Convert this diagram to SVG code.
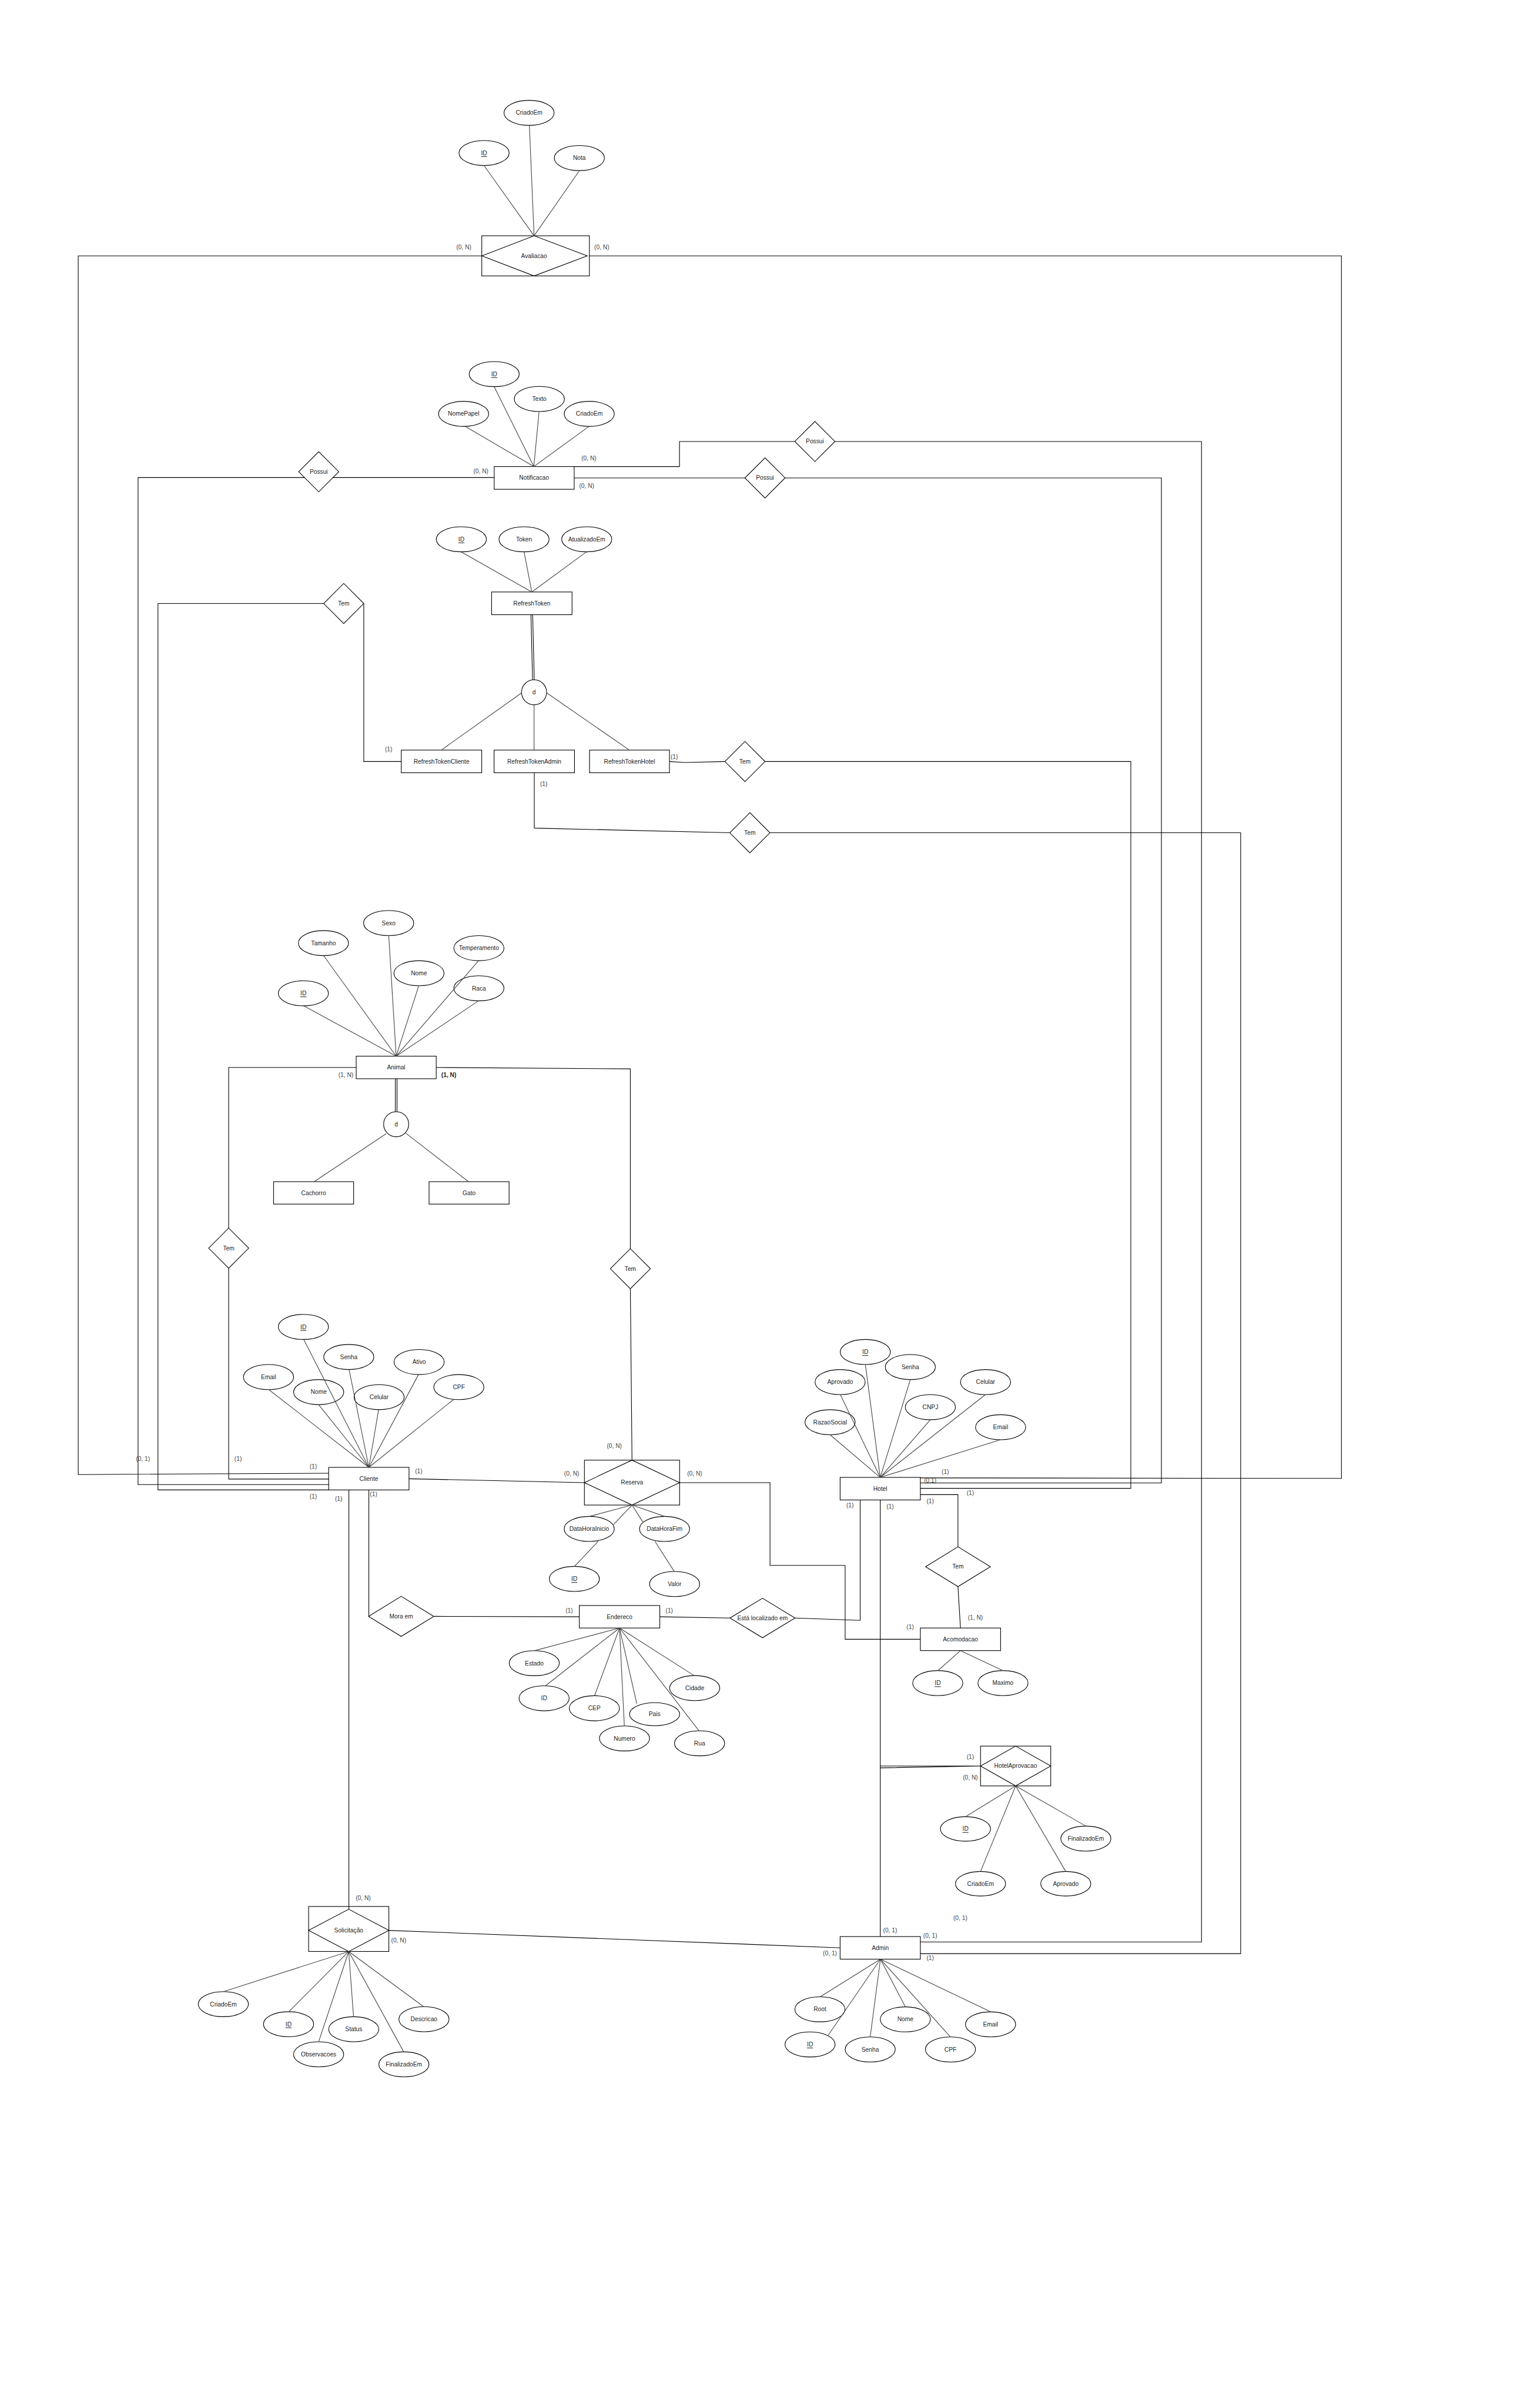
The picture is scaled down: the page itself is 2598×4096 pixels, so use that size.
<svg xmlns="http://www.w3.org/2000/svg" width="2598" height="4096" viewBox="0 0 2598 4096">
<style>
.n{fill:#fff;stroke:#000;stroke-width:1.3}
.c{fill:none;stroke:#000;stroke-width:1.3}
.al{fill:none;stroke:#444;stroke-width:1.3}
text{font-family:"Liberation Sans",Arial,sans-serif;font-size:12px;fill:#222;text-anchor:middle;dominant-baseline:central}
.k{fill:#444}
.u{text-decoration:underline}
.b{font-weight:bold;fill:#222}
</style>
<rect width="2598" height="4096" fill="#fff"/>
<g transform="scale(0.8532,0.85333)">

<!-- ============ NODES ============ -->
<g id="avaliacao"><rect class="n" x="960.7" y="470" width="214.6" height="80"/><polygon class="n" points="961,510 1065,470 1171,510 1065,550"/><text x="1065" y="510">Avaliacao</text></g>
<g id="avaliacao-id"><ellipse class="n" cx="965.3" cy="305" rx="50" ry="25"/><text class="u" x="965.3" y="305">ID</text></g>
<g id="avaliacao-criadoem"><ellipse class="n" cx="1055" cy="225" rx="50" ry="25"/><text x="1055" y="225">CriadoEm</text></g>
<g id="avaliacao-nota"><ellipse class="n" cx="1155.3" cy="315" rx="50" ry="25"/><text x="1155.3" y="315">Nota</text></g>

<g id="notificacao"><rect class="n" x="985.5" y="930" width="159.5" height="45.3"/><text x="1065" y="952.5">Notificacao</text></g>
<g id="notificacao-id"><ellipse class="n" cx="985.5" cy="745.7" rx="50" ry="25"/><text class="u" x="985.5" y="745.7">ID</text></g>
<g id="notificacao-texto"><ellipse class="n" cx="1075.5" cy="795.3" rx="50" ry="25"/><text x="1075.5" y="795.3">Texto</text></g>
<g id="notificacao-nomepapel"><ellipse class="n" cx="924.5" cy="825" rx="50" ry="25"/><text x="924.5" y="825">NomePapel</text></g>
<g id="notificacao-criadoem"><ellipse class="n" cx="1175" cy="825" rx="50" ry="25"/><text x="1175" y="825">CriadoEm</text></g>
<g id="possui-cliente"><polygon class="n" points="595.6,940.3 635.6,900.3 675.6,940.3 635.6,980.3"/><text x="635.6" y="940.3">Possui</text></g>
<g id="possui-hotel"><polygon class="n" points="1485.5,952.7 1525.5,912.7 1565.5,952.7 1525.5,992.7"/><text x="1525.5" y="952.7">Possui</text></g>
<g id="possui-admin"><polygon class="n" points="1585,880 1625,840 1665,880 1625,920"/><text x="1625" y="880">Possui</text></g>

<g id="refreshtoken"><rect class="n" x="980.3" y="1180" width="160.4" height="45.3"/><text x="1060.5" y="1202.6">RefreshToken</text></g>
<g id="refreshtoken-id"><ellipse class="n" cx="920" cy="1075" rx="50" ry="25"/><text class="u" x="920" y="1075">ID</text></g>
<g id="refreshtoken-token"><ellipse class="n" cx="1045" cy="1075" rx="50" ry="25"/><text x="1045" y="1075">Token</text></g>
<g id="refreshtoken-atualizadoem"><ellipse class="n" cx="1170" cy="1075" rx="50" ry="25"/><text x="1170" y="1075">AtualizadoEm</text></g>
<g id="refreshtoken-d"><circle class="n" cx="1065" cy="1380" r="25"/><text x="1065" y="1380">d</text></g>
<g id="refreshtokencliente"><rect class="n" x="800.2" y="1495.2" width="160.4" height="45.2"/><text x="880.4" y="1517.8">RefreshTokenCliente</text></g>
<g id="refreshtokenadmin"><rect class="n" x="985.2" y="1495.2" width="160.4" height="45.2"/><text x="1065.4" y="1517.8">RefreshTokenAdmin</text></g>
<g id="refreshtokenhotel"><rect class="n" x="1175.6" y="1495.2" width="159.4" height="45.2"/><text x="1255.3" y="1517.8">RefreshTokenHotel</text></g>
<g id="tem-rt-cliente"><polygon class="n" points="645.4,1203 685.4,1163 725.4,1203 685.4,1243"/><text x="685.4" y="1203">Tem</text></g>
<g id="tem-rt-hotel"><polygon class="n" points="1445.5,1518 1485.5,1478 1525.5,1518 1485.5,1558"/><text x="1485.5" y="1518">Tem</text></g>
<g id="tem-rt-admin"><polygon class="n" points="1455.3,1660 1495.3,1620 1535.3,1660 1495.3,1700"/><text x="1495.3" y="1660">Tem</text></g>

<g id="animal"><rect class="n" x="710.3" y="2105.3" width="159.6" height="45"/><text x="790" y="2127.8">Animal</text></g>
<g id="animal-sexo"><ellipse class="n" cx="775" cy="1840" rx="50" ry="25"/><text x="775" y="1840">Sexo</text></g>
<g id="animal-tamanho"><ellipse class="n" cx="645" cy="1880" rx="50" ry="25"/><text x="645" y="1880">Tamanho</text></g>
<g id="animal-temperamento"><ellipse class="n" cx="955" cy="1890" rx="50" ry="25"/><text x="955" y="1890">Temperamento</text></g>
<g id="animal-nome"><ellipse class="n" cx="835.5" cy="1940" rx="50" ry="25"/><text x="835.5" y="1940">Nome</text></g>
<g id="animal-raca"><ellipse class="n" cx="955" cy="1970" rx="50" ry="25"/><text x="955" y="1970">Raca</text></g>
<g id="animal-id"><ellipse class="n" cx="605" cy="1980" rx="50" ry="25"/><text class="u" x="605" y="1980">ID</text></g>
<g id="animal-d"><circle class="n" cx="790" cy="2241" r="25"/><text x="790" y="2241">d</text></g>
<g id="cachorro"><rect class="n" x="545.6" y="2355.5" width="159.6" height="44.7"/><text x="625.4" y="2377.8">Cachorro</text></g>
<g id="gato"><rect class="n" x="855.6" y="2355.5" width="159.6" height="44.7"/><text x="935.4" y="2377.8">Gato</text></g>
<g id="tem-animal-cliente"><polygon class="n" points="416,2488 456,2448 496,2488 456,2528"/><text x="456" y="2488">Tem</text></g>
<g id="tem-animal-reserva"><polygon class="n" points="1217,2529 1257,2489 1297,2529 1257,2569"/><text x="1257" y="2529">Tem</text></g>

<g id="cliente"><rect class="n" x="655.4" y="2925" width="160.2" height="45"/><text x="735.5" y="2947.5">Cliente</text></g>
<g id="cliente-id"><ellipse class="n" cx="605" cy="2645" rx="50" ry="25"/><text class="u" x="605" y="2645">ID</text></g>
<g id="cliente-senha"><ellipse class="n" cx="695.5" cy="2705" rx="50" ry="25"/><text x="695.5" y="2705">Senha</text></g>
<g id="cliente-ativo"><ellipse class="n" cx="835.8" cy="2715" rx="50" ry="25"/><text x="835.8" y="2715">Ativo</text></g>
<g id="cliente-email"><ellipse class="n" cx="535.5" cy="2745" rx="50" ry="25"/><text x="535.5" y="2745">Email</text></g>
<g id="cliente-nome"><ellipse class="n" cx="635.5" cy="2775" rx="50" ry="25"/><text x="635.5" y="2775">Nome</text></g>
<g id="cliente-celular"><ellipse class="n" cx="756" cy="2785" rx="50" ry="25"/><text x="756" y="2785">Celular</text></g>
<g id="cliente-cpf"><ellipse class="n" cx="915" cy="2765" rx="50" ry="25"/><text x="915" y="2765">CPF</text></g>

<g id="hotel"><rect class="n" x="1675.3" y="2945" width="160" height="45"/><text x="1755.3" y="2967.5">Hotel</text></g>
<g id="hotel-id"><ellipse class="n" cx="1725.5" cy="2695" rx="50" ry="25"/><text class="u" x="1725.5" y="2695">ID</text></g>
<g id="hotel-senha"><ellipse class="n" cx="1815.3" cy="2725" rx="50" ry="25"/><text x="1815.3" y="2725">Senha</text></g>
<g id="hotel-aprovado"><ellipse class="n" cx="1675.3" cy="2755" rx="50" ry="25"/><text x="1675.3" y="2755">Aprovado</text></g>
<g id="hotel-celular"><ellipse class="n" cx="1965.3" cy="2755" rx="50" ry="25"/><text x="1965.3" y="2755">Celular</text></g>
<g id="hotel-cnpj"><ellipse class="n" cx="1855.3" cy="2805" rx="50" ry="25"/><text x="1855.3" y="2805">CNPJ</text></g>
<g id="hotel-razaosocial"><ellipse class="n" cx="1655.3" cy="2835" rx="50" ry="25"/><text x="1655.3" y="2835">RazaoSocial</text></g>
<g id="hotel-email"><ellipse class="n" cx="1995.3" cy="2845" rx="50" ry="25"/><text x="1995.3" y="2845">Email</text></g>

<g id="reserva"><rect class="n" x="1165.4" y="2910.6" width="189.8" height="89.5"/><polygon class="n" points="1165.4,2955.4 1260.3,2910.6 1355.2,2955.4 1260.3,3000.1"/><text x="1260.3" y="2955.4">Reserva</text></g>
<g id="reserva-datahorainicio"><ellipse class="n" cx="1175" cy="3047.7" rx="50" ry="25"/><text x="1175" y="3047.7">DataHoraInicio</text></g>
<g id="reserva-datahorafim"><ellipse class="n" cx="1325.2" cy="3047.7" rx="50" ry="25"/><text x="1325.2" y="3047.7">DataHoraFim</text></g>
<g id="reserva-id"><ellipse class="n" cx="1145.3" cy="3147.3" rx="50" ry="25"/><text class="u" x="1145.3" y="3147.3">ID</text></g>
<g id="reserva-valor"><ellipse class="n" cx="1345.3" cy="3157.5" rx="50" ry="25"/><text x="1345.3" y="3157.5">Valor</text></g>

<g id="mora-em"><polygon class="n" points="735,3222 800,3182 865,3222 800,3262"/><text x="800" y="3222">Mora em</text></g>
<g id="endereco"><rect class="n" x="1155.2" y="3200.4" width="160.5" height="44.8"/><text x="1235.4" y="3222.8">Endereco</text></g>
<g id="endereco-estado"><ellipse class="n" cx="1065.4" cy="3315.3" rx="50" ry="25"/><text x="1065.4" y="3315.3">Estado</text></g>
<g id="endereco-id"><ellipse class="n" cx="1085" cy="3385.3" rx="50" ry="25"/><text x="1085" y="3385.3">ID</text></g>
<g id="endereco-cep"><ellipse class="n" cx="1185.2" cy="3405.2" rx="50" ry="25"/><text x="1185.2" y="3405.2">CEP</text></g>
<g id="endereco-numero"><ellipse class="n" cx="1245.3" cy="3465.3" rx="50" ry="25"/><text x="1245.3" y="3465.3">Numero</text></g>
<g id="endereco-pais"><ellipse class="n" cx="1305.3" cy="3417" rx="50" ry="23"/><text x="1305.3" y="3417">Pais</text></g>
<g id="endereco-rua"><ellipse class="n" cx="1395" cy="3475" rx="50" ry="25"/><text x="1395" y="3475">Rua</text></g>
<g id="endereco-cidade"><ellipse class="n" cx="1385.3" cy="3365" rx="50" ry="25"/><text x="1385.3" y="3365">Cidade</text></g>
<g id="esta-localizado-em"><polygon class="n" points="1455.7,3225.3 1520.5,3185.9 1585.4,3225.3 1520.5,3264.6"/><text x="1520.5" y="3225.3">Está localizado em</text></g>

<g id="tem-acomodacao"><polygon class="n" points="1845.7,3123 1910.3,3083.3 1975,3123 1910.3,3162.7"/><text x="1910.3" y="3123">Tem</text></g>
<g id="acomodacao"><rect class="n" x="1835.3" y="3245.2" width="160" height="45"/><text x="1915.3" y="3267.7">Acomodacao</text></g>
<g id="acomodacao-id"><ellipse class="n" cx="1870" cy="3355" rx="50" ry="25"/><text class="u" x="1870" y="3355">ID</text></g>
<g id="acomodacao-maximo"><ellipse class="n" cx="2000" cy="3355" rx="50" ry="25"/><text x="2000" y="3355">Maximo</text></g>

<g id="hotelaprovacao"><rect class="n" x="1955.3" y="3480.6" width="140" height="79.4"/><polygon class="n" points="1955.3,3520.3 2025.3,3480.6 2095.3,3520.3 2025.3,3560"/><text x="2025.3" y="3520.3">HotelAprovacao</text></g>
<g id="hotelaprovacao-id"><ellipse class="n" cx="1925.3" cy="3645.7" rx="50" ry="24.5"/><text class="u" x="1925.3" y="3645.7">ID</text></g>
<g id="hotelaprovacao-criadoem"><ellipse class="n" cx="1955.3" cy="3755" rx="50" ry="24.5"/><text x="1955.3" y="3755">CriadoEm</text></g>
<g id="hotelaprovacao-aprovado"><ellipse class="n" cx="2125.3" cy="3755" rx="50" ry="24.5"/><text x="2125.3" y="3755">Aprovado</text></g>
<g id="hotelaprovacao-finalizadoem"><ellipse class="n" cx="2165.3" cy="3665" rx="50" ry="25"/><text x="2165.3" y="3665">FinalizadoEm</text></g>

<g id="solicitacao"><rect class="n" x="615.4" y="3800.3" width="160" height="89.7"/><polygon class="n" points="615.4,3848 695.4,3805.7 775.4,3848 695.4,3890"/><text x="695.4" y="3848">Solicitação</text></g>
<g id="solicitacao-criadoem"><ellipse class="n" cx="445.4" cy="3995" rx="50" ry="25"/><text x="445.4" y="3995">CriadoEm</text></g>
<g id="solicitacao-id"><ellipse class="n" cx="575.4" cy="4035" rx="50" ry="25"/><text class="u" x="575.4" y="4035">ID</text></g>
<g id="solicitacao-observacoes"><ellipse class="n" cx="635.4" cy="4095" rx="50" ry="25"/><text x="635.4" y="4095">Observacoes</text></g>
<g id="solicitacao-status"><ellipse class="n" cx="705.4" cy="4045" rx="50" ry="25"/><text x="705.4" y="4045">Status</text></g>
<g id="solicitacao-finalizadoem"><ellipse class="n" cx="805.4" cy="4115" rx="50" ry="25"/><text x="805.4" y="4115">FinalizadoEm</text></g>
<g id="solicitacao-descricao"><ellipse class="n" cx="845.4" cy="4025" rx="50" ry="25"/><text x="845.4" y="4025">Descricao</text></g>

<g id="admin"><rect class="n" x="1675.3" y="3860.3" width="160" height="45"/><text x="1755.3" y="3882.8">Admin</text></g>
<g id="admin-root"><ellipse class="n" cx="1635" cy="4005.3" rx="50" ry="25"/><text x="1635" y="4005.3">Root</text></g>
<g id="admin-id"><ellipse class="n" cx="1615.3" cy="4075.3" rx="50" ry="25"/><text class="u" x="1615.3" y="4075.3">ID</text></g>
<g id="admin-senha"><ellipse class="n" cx="1735.3" cy="4085.3" rx="50" ry="25"/><text x="1735.3" y="4085.3">Senha</text></g>
<g id="admin-nome"><ellipse class="n" cx="1805.3" cy="4025.3" rx="50" ry="25"/><text x="1805.3" y="4025.3">Nome</text></g>
<g id="admin-cpf"><ellipse class="n" cx="1895.3" cy="4085.3" rx="50" ry="25"/><text x="1895.3" y="4085.3">CPF</text></g>
<g id="admin-email"><ellipse class="n" cx="1975.3" cy="4035.3" rx="50" ry="25"/><text x="1975.3" y="4035.3">Email</text></g>

<!-- ============ CONNECTORS ============ -->
<g id="connectors">
<path class="al" d="M966,331 L1065,470 M1055.7,250.7 L1065,470 M1155,340.7 L1065,470"/>
<path class="al" d="M985.5,770.7 L1064.5,930 M1075,820.3 L1064.5,930 M927.6,850 L1064.5,930 M1174.4,850 L1064.5,930"/>
<path class="al" d="M919.7,1100 L1060.5,1180 M1045,1100 L1060.5,1180 M1169.5,1100 L1060.5,1180"/>
<path class="c" d="M1058.8,1225.3 L1062,1355.3 M1062.2,1225.3 L1065.4,1355.3"/>
<path class="al" d="M1040.3,1381 L880,1495.2 M1065,1405 V1495.2 M1090,1381 L1255,1495.2"/>
<path class="al" d="M605.3,2004.8 L790,2105.3 M645.5,1905.2 L790,2105.3 M775.2,1865.2 L790,2105.3 M834.9,1965.3 L790,2105.3 M954.3,1915 L790,2105.3 M954.3,1995 L790,2105.3"/>
<path class="c" d="M788.3,2150.3 V2216 M791.7,2150.3 V2216"/>
<path class="al" d="M770,2260 L626.5,2355.5 M809,2258.7 L934.2,2355.5"/>
<path class="al" d="M605.7,2670 L735.5,2925 M696.2,2730.3 L735.5,2925 M834.5,2740 L735.5,2925 M536,2770 L735.5,2925 M635.5,2800 L735.5,2925 M755,2810 L735.5,2925 M904,2790 L735.5,2925"/>
<path class="al" d="M1725.7,2720 L1755.3,2945 M1815.3,2750 L1755.3,2945 M1675.7,2780 L1755.3,2945 M1965,2780 L1755.3,2945 M1855.3,2830 L1755.3,2945 M1655.3,2860 L1755.3,2945 M1995,2870 L1755.3,2945"/>
<path class="al" d="M1260.3,3000.1 L1175.7,3022.7 M1260.3,3000.1 L1223,3039.5 M1193,3072.3 L1145.7,3122.4 M1260.3,3000.1 L1325.2,3022.7 M1260.3,3000.1 L1281.6,3033.5 M1306,3072.3 L1344.6,3132.6"/>
<path class="al" d="M1235.4,3245.2 L1065.4,3290.5 M1235.4,3245.2 L1087.6,3360.4 M1235.4,3245.2 L1185.6,3380.3 M1235.4,3245.2 L1245,3440.4 M1235.4,3245.2 L1269.8,3396 M1235.4,3245.2 L1394.4,3450.8 M1235.4,3245.2 L1384.5,3340.3"/>
<path class="al" d="M1915.3,3290.2 L1870.3,3330.2 M1915.3,3290.2 L2000,3330.2"/>
<path class="al" d="M2025.3,3560 L1925.3,3621.3 M2025.3,3560 L1955.3,3730.5 M2025.3,3560 L2125.3,3730.5 M2025.3,3560 L2165.3,3640"/>
<path class="al" d="M695.4,3890 L445.7,3970 M695.4,3890 L576,4010 M695.4,3890 L635.4,4070 M695.4,3890 L705,4020 M695.4,3890 L805,4090 M695.4,3890 L844.6,4000"/>
<path class="al" d="M1755.7,3905.3 L1635.7,3980.3 M1755.7,3905.3 L1651.7,4056.7 M1755.7,3905.3 L1735.3,4060.3 M1755.7,3905.3 L1805.3,4000.3 M1755.7,3905.3 L1895.3,4060.3 M1755.7,3905.3 L1975.3,4010.3"/>

<path class="c" d="M960.7,510 H156 V2939.3 L655.4,2936.7"/>
<path class="c" d="M1175.3,510 H2675 V2947 L1835.3,2946"/>
<path class="c" d="M985.5,952 H663.6 M607.6,952 H275.3 V2959.3 H655.4"/>
<path class="c" d="M1145,952.7 H1485.5 M1565.5,952.7 H2316 V2956 H1835.3"/>
<path class="c" d="M1145,930 H1355 V880 H1585 M1665,880 H2396 V3871 H1835.3"/>
<path class="c" d="M645.4,1203 H315 V2970 H655.4 M725.4,1203 V1518 H800.2"/>
<path class="c" d="M1335,1518 L1365.5,1520 L1445.5,1518 M1525.5,1518 H2255 V2966.7 H1835.3"/>
<path class="c" d="M1065.4,1540.4 V1650.7 L1455.3,1660 M1535.3,1660 H2474 V3894.3 H1835.3"/>
<path class="c" d="M710.3,2127.8 H456 V2448 M456,2528 V2948.3 H655.4"/>
<path class="c" d="M869.9,2127.8 L1257,2130.6 V2489 M1257,2569 L1260.3,2910.6"/>
<path class="c" d="M815.6,2947.7 L1165.4,2955.4"/>
<path class="c" d="M1355.2,2955.4 H1535.5 V3120.4 H1685.3 V3267.7 H1835.3"/>
<path class="c" d="M735.5,2970 V3222 M865,3222 L1155.2,3222.8"/>
<path class="c" d="M1315.7,3222.8 L1455.7,3225.3 M1585.4,3225.3 L1715.3,3230 V2990"/>
<path class="c" d="M1835.3,2979.3 H1910.3 V3083.3 M1910.3,3162.7 L1915.3,3245.2"/>
<path class="c" d="M1755.3,2990 V3860.3 M1755.3,3520.3 H1955.3 M1755.3,3524 L1955.3,3520.3"/>
<path class="c" d="M695.7,2970 V3805.7"/>
<path class="c" d="M775.4,3848 L1675.3,3882.7"/>
</g>

<!-- ============ CARDINALITIES ============ -->
<g id="labels">
<text class="k" x="925" y="493">(0, N)</text>
<text class="k" x="1200" y="493">(0, N)</text>
<text class="k" x="959" y="939">(0, N)</text>
<text class="k" x="1174.4" y="913">(0, N)</text>
<text class="k" x="1170" y="968">(0, N)</text>
<text class="k" x="775" y="1493">(1)</text>
<text class="k" x="1344.6" y="1508.5">(1)</text>
<text class="k" x="1084.4" y="1563">(1)</text>
<text class="k" x="689.7" y="2143">(1, N)</text>
<text class="b" x="895" y="2143">(1, N)</text>
<text class="k" x="285" y="2908">(0, 1)</text>
<text class="k" x="474.8" y="2908">(1)</text>
<text class="k" x="624.6" y="2922.7">(1)</text>
<text class="k" x="624.6" y="2983.3">(1)</text>
<text class="k" x="675.3" y="2988.3">(1)</text>
<text class="k" x="745" y="2978.3">(1)</text>
<text class="k" x="835" y="2932.7">(1)</text>
<text class="k" x="1885" y="2933.3">(1)</text>
<text class="k" x="1855" y="2951">(0,1)</text>
<text class="k" x="1935" y="2976">(1)</text>
<text class="k" x="1855" y="2992.7">(1)</text>
<text class="k" x="1695" y="3001">(1)</text>
<text class="k" x="1775" y="3002.7">(1)</text>
<text class="k" x="1225" y="2882.8">(0, N)</text>
<text class="k" x="1140" y="2937.5">(0, N)</text>
<text class="k" x="1385.3" y="2937.5">(0, N)</text>
<text class="k" x="1135" y="3210.3">(1)</text>
<text class="k" x="1334.7" y="3210.3">(1)</text>
<text class="k" x="1815" y="3242.8">(1)</text>
<text class="k" x="1945" y="3225">(1, N)</text>
<text class="k" x="1935" y="3502.6">(1)</text>
<text class="k" x="1935" y="3542.8">(0, N)</text>
<text class="k" x="724.3" y="3783.3">(0, N)</text>
<text class="k" x="795" y="3867.7">(0, N)</text>
<text class="k" x="1775" y="3848.3">(0, 1)</text>
<text class="k" x="1915" y="3822.7">(0, 1)</text>
<text class="k" x="1855" y="3858.3">(0, 1)</text>
<text class="k" x="1855" y="3903.3">(1)</text>
<text class="k" x="1655" y="3893.3">(0, 1)</text>
</g>
</g>
</svg>
